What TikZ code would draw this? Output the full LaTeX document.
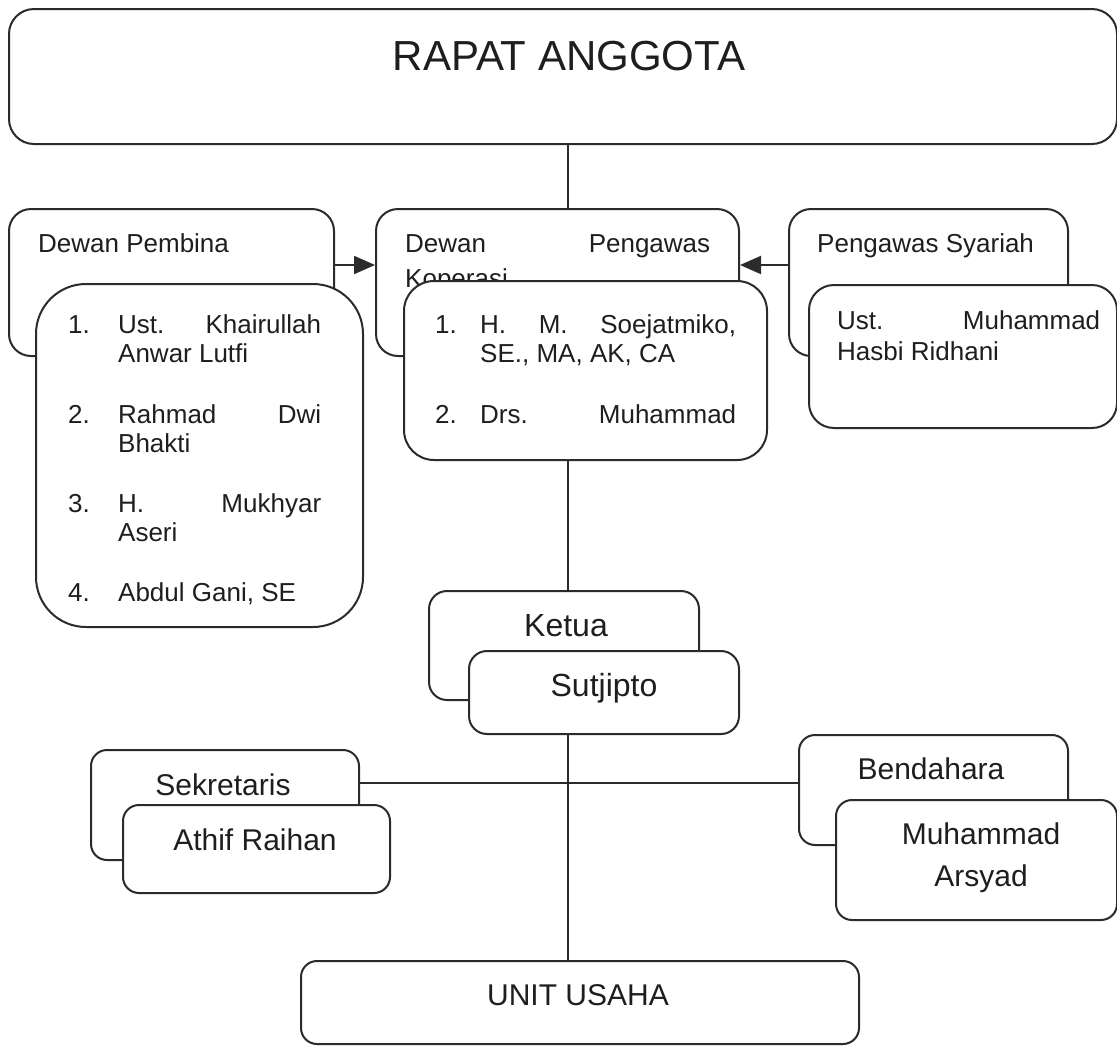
\documentclass[tikz,border=0pt]{standalone}
\usepackage{fontspec}
\setmainfont{Liberation Sans}
\usetikzlibrary{arrows.meta}
\definecolor{edge}{HTML}{2B2B2B}
\definecolor{ink}{HTML}{1E1E1E}
\tikzset{
  box/.style={draw=edge, line width=2pt, fill=white, anchor=north west, inner sep=0pt},
  conn/.style={draw=edge, line width=2pt},
  arr/.style={conn, -{Triangle[length=21pt,width=18pt]}},
  txt/.style={inner sep=0pt, text=ink, font=\fontsize{26}{29}\selectfont},
  big/.style={inner sep=0pt, text=ink, font=\fontsize{30}{34}\selectfont, anchor=base},
}
\begin{document}
\begin{tikzpicture}[x=1pt,y=-1pt]
\useasboundingbox (0,0) rectangle (1117,1050);
\coordinate (spine) at (568,0);
\coordinate (arrowrow) at (0,265);
\coordinate (siderow) at (0,783);

% RAPAT ANGGOTA
\node[box, rounded corners=25pt, minimum width=1108pt, minimum height=135pt] (rapat) at (8,8) {};
\node[txt, font=\fontsize{42}{46}\selectfont, anchor=base] (rapatT) at (569,70) {RAPAT ANGGOTA};

% Dewan Pembina
\node[box, rounded corners=22pt, minimum width=325pt, minimum height=147pt] (pembinaB) at (8,208) {};
\node[txt, anchor=base west] (pembinaT) at (38,252) {Dewan Pembina};
\node[box, rounded corners=50pt, minimum width=327pt, minimum height=343pt] (pembinaF) at (35,283) {};
\node[txt, anchor=base west] (pb1n) at (68,333) {1.};
\node[txt, anchor=base west] (pb1a) at (118,333) {\makebox[203pt][l]{Ust.\hfill Khairullah}};
\node[txt, anchor=base west] (pb1b) at (118,362) {Anwar Lutfi};
\node[txt, anchor=base west] (pb2n) at (68,423) {2.};
\node[txt, anchor=base west] (pb2a) at (118,423) {\makebox[203pt][l]{Rahmad\hfill Dwi}};
\node[txt, anchor=base west] (pb2b) at (118,452) {Bhakti};
\node[txt, anchor=base west] (pb3n) at (68,512) {3.};
\node[txt, anchor=base west] (pb3a) at (118,512) {\makebox[203pt][l]{H.\hfill Mukhyar}};
\node[txt, anchor=base west] (pb3b) at (118,541) {Aseri};
\node[txt, anchor=base west] (pb4n) at (68,601) {4.};
\node[txt, anchor=base west] (pb4a) at (118,601) {Abdul Gani, SE};

% Dewan Pengawas Koperasi
\node[box, rounded corners=22pt, minimum width=363pt, minimum height=147pt] (pengawasB) at (375,208) {};
\node[txt, anchor=base west] (pgT1) at (405,252) {\makebox[305pt][l]{Dewan\hfill Pengawas}};
\node[txt, anchor=base west] (pgT2) at (405,287) {Koperasi};
\node[box, rounded corners=30pt, minimum width=363pt, minimum height=179pt] (pengawasF) at (403,280) {};
\node[txt, anchor=base west] (pg1n) at (435,333) {1.};
\node[txt, anchor=base west] (pg1a) at (480,333) {\makebox[256pt][l]{H.\hfill M.\hfill Soejatmiko,}};
\node[txt, anchor=base west] (pg1b) at (480,362) {SE., MA, AK, CA};
\node[txt, anchor=base west] (pg2n) at (435,423) {2.};
\node[txt, anchor=base west] (pg2a) at (480,423) {\makebox[256pt][l]{Drs.\hfill Muhammad}};

% Pengawas Syariah
\node[box, rounded corners=22pt, minimum width=279pt, minimum height=147pt] (syariahB) at (788,208) {};
\node[txt, anchor=base west] (syT) at (817,252) {Pengawas Syariah};
\node[box, rounded corners=25pt, minimum width=308pt, minimum height=143pt] (syariahF) at (808,284) {};
\node[txt, anchor=base west] (sy1) at (837,329) {\makebox[263pt][l]{Ust.\hfill Muhammad}};
\node[txt, anchor=base west] (sy2) at (837,360) {Hasbi Ridhani};

% Ketua
\node[box, rounded corners=18pt, minimum width=270pt, minimum height=109pt] (ketuaB) at (428,590) {};
\node[big, font=\fontsize{32}{36}\selectfont] (ketuaT) at (566,636) {Ketua};
\node[box, rounded corners=18pt, minimum width=270pt, minimum height=83pt] (ketuaF) at (468,650) {};
\node[big, font=\fontsize{32}{36}\selectfont] (ketuaN) at (604,696) {Sutjipto};

% Sekretaris
\node[box, rounded corners=16pt, minimum width=268pt, minimum height=110pt] (sekB) at (90,749) {};
\node[big] (sekT) at (223,795) {Sekretaris};
\node[box, rounded corners=16pt, minimum width=267pt, minimum height=88pt] (sekF) at (122,804) {};
\node[big] (sekN) at (255,850) {Athif Raihan};

% Bendahara
\node[box, rounded corners=16pt, minimum width=269pt, minimum height=110pt] (benB) at (798,734) {};
\node[big] (benT) at (931,779) {Bendahara};
\node[box, rounded corners=16pt, minimum width=281pt, minimum height=120pt] (benF) at (835,799) {};
\node[big] (benN1) at (981,844) {Muhammad};
\node[big] (benN2) at (981,886) {Arsyad};

% Unit Usaha
\node[box, rounded corners=16pt, minimum width=558pt, minimum height=83pt] (unit) at (300,960) {};
\node[big] (unitT) at (578,1005) {UNIT USAHA};

% Connectors
\draw[conn] (rapat.south -| spine) -- (pengawasB.north -| spine);
\draw[conn] (pengawasF.south -| spine) -- (ketuaB.north -| spine);
\draw[conn] (ketuaF.south -| spine) -- (unit.north -| spine);
\draw[conn] (sekB.east |- siderow) -- (benB.west |- siderow);
\draw[arr] (pembinaB.east |- arrowrow) -- (pengawasB.west |- arrowrow);
\draw[arr] (syariahB.west |- arrowrow) -- (pengawasB.east |- arrowrow);
\end{tikzpicture}
\end{document}
